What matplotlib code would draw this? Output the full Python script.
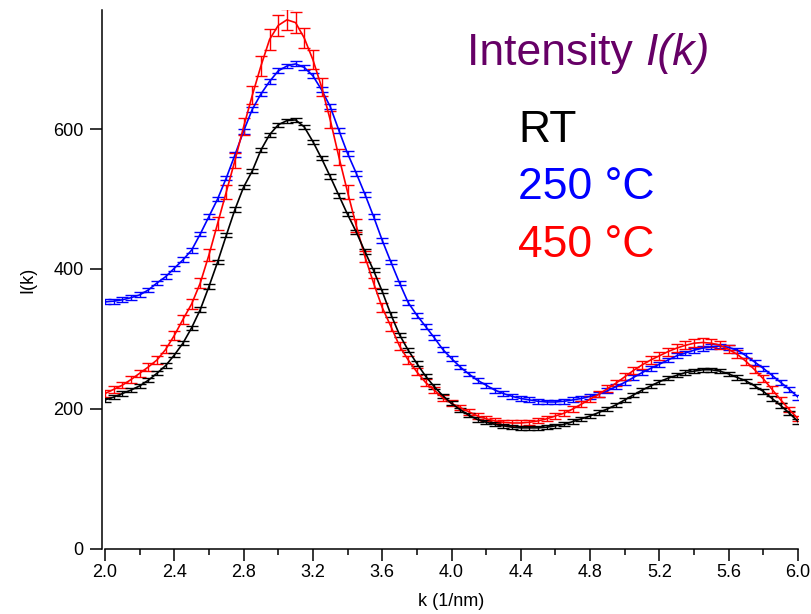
import numpy as np
import matplotlib
matplotlib.use("Agg")
import matplotlib.pyplot as plt
from matplotlib.ticker import MultipleLocator

plt.rcParams['font.family'] = ['Liberation Sans', 'DejaVu Sans']

# k grid, 2.0 .. 6.0 step 0.05
k = np.round(np.arange(2.0, 6.0001, 0.05), 2)

rt = [213, 217, 222, 227, 233, 241, 251, 262, 277, 294,
      316, 342, 375, 410, 448, 485, 517, 540, 570, 592,
      606, 612, 613, 603, 582, 558, 532, 505, 478, 453,
      425, 398, 368, 335, 306, 284, 265, 247, 232, 219,
      208, 199, 191, 185, 181, 178, 176, 174, 173, 173,
      173, 174, 176, 178, 182, 186, 190, 195, 200, 206,
      213, 220, 227, 233, 239, 244, 248, 252, 254, 256,
      256, 254, 250, 245, 240, 233, 225, 215, 205, 194,
      182]

t250 = [353, 354, 356, 359, 363, 370, 380, 389, 401, 413,
        427, 450, 475, 500, 530, 563, 597, 628, 650, 668,
        683, 690, 693, 688, 676, 656, 632, 598, 565, 537,
        507, 475, 441, 410, 380, 352, 334, 318, 302, 285,
        272, 260, 250, 241, 234, 227, 222, 218, 215, 213,
        211, 210, 210, 211, 213, 215, 218, 221, 226, 232,
        238, 245, 252, 258, 264, 270, 276, 280, 284, 287,
        289, 290, 288, 284, 276, 267, 258, 248, 238, 228,
        217]

t450 = [222, 228, 234, 242, 251, 260, 270, 285, 305, 328,
        350, 380, 420, 465, 510, 555, 603, 648, 690, 728,
        748, 756, 752, 730, 699, 660, 613, 560, 510, 462,
        418, 380, 345, 318, 290, 270, 253, 238, 227, 216,
        208, 202, 196, 190, 186, 183, 181, 180, 180, 181,
        183, 186, 190, 194, 200, 207, 214, 221, 229, 237,
        246, 255, 263, 270, 276, 282, 287, 291, 294, 295,
        294, 291, 285, 278, 268, 256, 243, 228, 213, 199,
        186]

# error sizes
rt_err = 3.0
t250_err = 3.5
t450_rel_err = 0.02

fig = plt.figure(figsize=(8.12, 6.14), dpi=100)
ax = fig.add_axes([0.1293, 0.1059, 0.8535, 0.8778])

ax.errorbar(k, t250, yerr=t250_err, fmt='-', color='#0000FF', lw=1.2,
            elinewidth=1.0, capsize=4.3, capthick=1.0)
ax.errorbar(k, t450, yerr=np.array(t450) * t450_rel_err, fmt='-', color='#FF0000',
            lw=1.2, elinewidth=1.0, capsize=4.3, capthick=1.0)
ax.errorbar(k, rt, yerr=rt_err, fmt='-', color='black', lw=1.2,
            elinewidth=1.0, capsize=4.3, capthick=1.0)

ax.set_xlim(2.0, 6.0)
ax.set_ylim(0, 770)
ax.xaxis.set_major_locator(MultipleLocator(0.4))
ax.xaxis.set_minor_locator(MultipleLocator(0.2))
ax.yaxis.set_major_locator(MultipleLocator(200))
ax.xaxis.set_major_formatter(plt.FuncFormatter(lambda v, p: f"{v:.1f}"))

for s in ['top', 'right']:
    ax.spines[s].set_visible(False)
for s in ['left', 'bottom']:
    ax.spines[s].set_linewidth(1.1)
ax.spines['left'].set_position(('outward', 2))

ax.tick_params(axis='both', which='major', direction='out', length=8.5, width=1.1,
               labelsize=13)
ax.tick_params(axis='x', which='minor', direction='out', length=4.5, width=1.1)
ax.tick_params(axis='x', which='major', pad=2)
ax.tick_params(axis='y', which='major', pad=5)

ax.set_xlabel('k (1/nm)', fontsize=13, labelpad=9)
ax.set_ylabel('I(k)', fontsize=13, labelpad=12)

# annotations
title = fig.text(467 / 812, 1 - 65 / 614, 'Intensity ', fontsize=32, color='#660066',
                 ha='left', va='baseline')
fig.canvas.draw()
bb = title.get_window_extent()
fig.text(bb.x1 / 812, 1 - 65 / 614, 'I(k)', fontsize=32, color='#660066',
         style='italic', ha='left', va='baseline')

fig.text(518 / 812, 1 - 142 / 614, 'RT', fontsize=32, color='black', va='baseline')
fig.text(518 / 812, 1 - 199 / 614, '250 °C', fontsize=32, color='#0000FF', va='baseline')
fig.text(518 / 812, 1 - 257 / 614, '450 °C', fontsize=32, color='#FF0000', va='baseline')

fig.savefig('out.png', dpi=100)
